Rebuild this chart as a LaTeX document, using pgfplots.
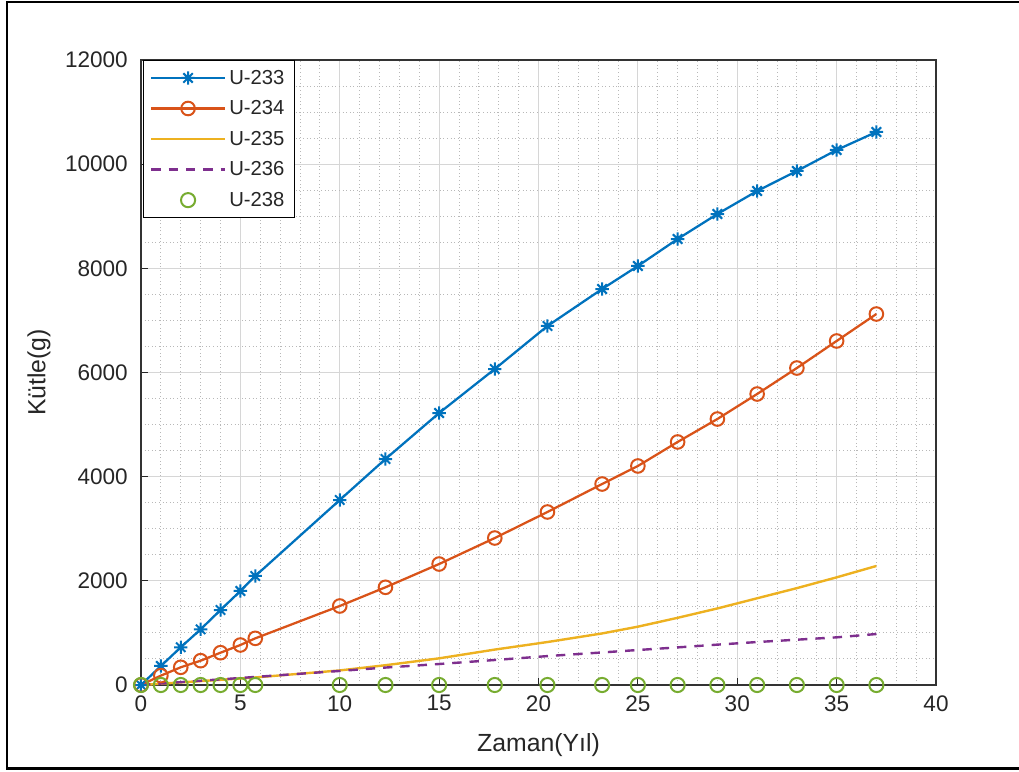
\documentclass[border=0pt]{standalone}
\usepackage{pgfplots}
\pgfplotsset{compat=1.18}
\usepackage{fontspec}
\setmainfont{Liberation Sans}
\definecolor{mblue}{rgb}{0,0.447,0.741}
\definecolor{morange}{rgb}{0.85,0.325,0.098}
\definecolor{myellow}{rgb}{0.929,0.694,0.125}
\definecolor{mpurple}{rgb}{0.494,0.184,0.556}
\definecolor{mgreen}{rgb}{0.466,0.674,0.188}
\pgfdeclareplotmark{mstar}{%
 \pgfpathmoveto{\pgfqpoint{-\pgfplotmarksize}{0pt}}\pgfpathlineto{\pgfqpoint{\pgfplotmarksize}{0pt}}%
 \pgfpathmoveto{\pgfqpoint{0pt}{-\pgfplotmarksize}}\pgfpathlineto{\pgfqpoint{0pt}{\pgfplotmarksize}}%
 \pgfpathmoveto{\pgfqpoint{-.7071\pgfplotmarksize}{-.7071\pgfplotmarksize}}\pgfpathlineto{\pgfqpoint{.7071\pgfplotmarksize}{.7071\pgfplotmarksize}}%
 \pgfpathmoveto{\pgfqpoint{-.7071\pgfplotmarksize}{.7071\pgfplotmarksize}}\pgfpathlineto{\pgfqpoint{.7071\pgfplotmarksize}{-.7071\pgfplotmarksize}}%
 \pgfusepathqstroke}
\begin{document}
\begin{tikzpicture}
\useasboundingbox (-105.75pt,-64.5pt) rectangle (658.5pt,513.75pt);
\draw[line width=1.7pt, black] (660pt,512.25pt) -- (-100.5pt,512.25pt) -- (-100.5pt,-62.6pt) -- (660pt,-62.6pt);
\begin{axis}[
  at={(0pt,0pt)}, anchor=south west,
  scale only axis, width=596.25pt, height=468.75pt,
  xmin=0, xmax=40, ymin=0, ymax=12000,
  xtick={0,5,...,40}, ytick={0,2000,...,12000},
  minor x tick num=4, minor y tick num=3,
  grid=both,
  major grid style={color=black!16, line width=0.7pt},
  minor grid style={color=black!28, line width=0.7pt, dotted},
  tick align=inside, xtick pos=left, ytick pos=left,
  major tick length=5pt, minor tick length=0pt,
  every tick/.style={black!85, line width=0.7pt},
  axis line style={black!80, line width=0.8pt},
  scaled ticks=false,
  /pgf/number format/assume math mode=true,
  /pgf/number format/set thousands separator={},
  tick label style={font=\fontsize{16.9}{20}\selectfont, text=black!85},
  yticklabel style={inner sep=0pt, anchor=east, xshift=-9.75pt},
  xticklabel style={inner sep=0pt, anchor=north, yshift=-7.5pt},
  every axis x label/.style={at={(axis description cs:0.5,-0.096)}, anchor=center, font=\fontsize{18.6}{22}\selectfont, text=black!85},
  every axis y label/.style={at={(axis description cs:-0.1283,0.5)}, anchor=center, rotate=90, font=\fontsize{18.6}{22}\selectfont, text=black!85},
  xlabel={Zaman(Yıl)}, ylabel={Kütle(g)},
  legend cell align=left,
  legend image code/.code={\draw[mark repeat=2,mark phase=2,#1] plot coordinates {(0pt,0pt) (27.5pt,0pt) (55pt,0pt)};},
  legend style={at={(axis description cs:0,1)}, anchor=north west, xshift=1.5pt,
    font=\fontsize{15.2}{18}\selectfont, draw=black, line width=0.8pt, fill=white,
    row sep=6.8pt, inner xsep=5pt, inner ysep=5pt,
    nodes={inner xsep=2.5pt, inner ysep=2pt, text=black!85}},
]
\addplot[color=mblue, line width=1.7pt, mark=mstar, mark size=5pt, mark options={solid, line width=1.5pt}] coordinates {
(0,0) (1,365) (2,724) (3,1069) (4,1440) (5,1805) (5.75,2093) (10,3552) (12.3,4339) (15,5222) (17.8,6067) (20.45,6893) (23.2,7603) (25,8045) (27,8563) (29,9043) (31,9485) (33,9869) (35,10272) (37,10618)};
\addlegendentry{U-233}
\addplot[color=morange, line width=1.7pt, mark=o, mark size=5.1pt, mark options={solid, line width=1.5pt}] coordinates {
(0,0) (1,180) (2,340) (3,467) (4,620) (5,768) (5.75,896) (10,1517) (12.3,1876) (15,2323) (17.8,2822) (20.45,3322) (23.2,3859) (25,4205) (27,4666) (29,5107) (31,5587) (33,6086) (35,6605) (37,7123)};
\addlegendentry{U-234}
\addplot[color=myellow, line width=1.8pt] coordinates {
(0,0) (1,25) (2,50) (3,75) (4,100) (5,125) (5.75,145) (10,280) (12.3,380) (15,512) (17.8,680) (20.45,825) (23.2,990) (25,1120) (27,1290) (29,1470) (31,1665) (33,1860) (35,2067) (37,2285)};
\addlegendentry{U-235}
\addplot[color=mpurple, line width=1.8pt, dash pattern=on 7pt off 6pt] coordinates {
(0,0) (1,28) (2,55) (3,82) (4,108) (5,135) (5.75,155) (10,270) (12.3,335) (15,403) (17.8,480) (20.45,555) (23.2,625) (25,672) (27,722) (29,775) (31,825) (33,870) (35,915) (37,979)};
\addlegendentry{U-236}
\addplot[color=mgreen, only marks, mark=o, mark size=5.3pt, mark options={line width=1.5pt}] coordinates {
(0,0) (1,0) (2,0) (3,0) (4,0) (5,0) (5.75,0) (10,0) (12.3,0) (15,0) (17.8,0) (20.45,0) (23.2,0) (25,0) (27,0) (29,0) (31,0) (33,0) (35,0) (37,0)};
\addlegendentry{U-238}
\end{axis}
\end{tikzpicture}
\end{document}
